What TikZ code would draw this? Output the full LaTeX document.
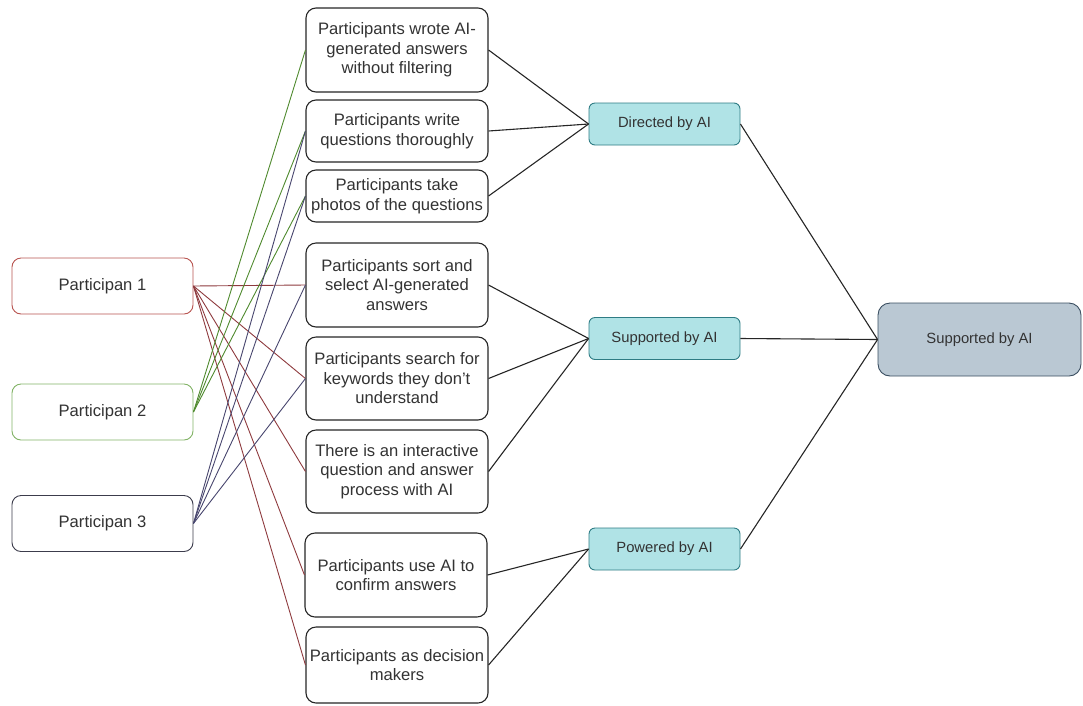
\documentclass[tikz,border=0pt]{standalone}
\usepackage{fontspec}
\setmainfont{Liberation Sans}
\definecolor{redp}{HTML}{B85450}
\definecolor{greenp}{HTML}{82B366}
\definecolor{darkp}{HTML}{3C3C4C}
\definecolor{redline}{HTML}{8E3A3E}
\definecolor{greenline}{HTML}{4F8A2E}
\definecolor{darkline}{HTML}{48466E}
\definecolor{catfill}{HTML}{B0E3E6}
\definecolor{catdraw}{HTML}{2E7C84}
\definecolor{resfill}{HTML}{BAC8D3}
\definecolor{resdraw}{HTML}{3A4E60}
\begin{document}
\begin{tikzpicture}[x=1pt,y=-1pt]
\tikzstyle{every node}=[font=\fontsize{16.6}{19.5}\selectfont,text=black!80,align=center,inner sep=2pt]
\tikzstyle{part}=[draw,fill=white,rounded corners=9pt,minimum width=181pt,minimum height=56pt,line width=0.9pt]
\tikzstyle{act}=[draw=black!85,fill=white,rounded corners=10pt,minimum width=182pt,line width=1.1pt]
\tikzstyle{cat}=[draw=catdraw,fill=catfill,rounded corners=6pt,minimum width=151pt,minimum height=42pt,line width=0.9pt,font=\fontsize{14.8}{17}\selectfont]
\tikzstyle{res}=[draw=resdraw,fill=resfill,rounded corners=12pt,minimum width=203pt,minimum height=73pt,line width=0.9pt,font=\fontsize{14.8}{17}\selectfont]
\useasboundingbox (0,0) rectangle (1083,705);

%%%------------------------------------------------------------------------------------------------------------
\node[part,draw=redp] (p1) at (102.5,286) {Participan 1};
\node[part,draw=greenp] (p2) at (102.5,412) {Participan 2};
\node[part,draw=darkp] (p3) at (102.5,523.5) {Participan 3};

\node[act,minimum height=84pt] (a1) at (397,50) {Participants wrote AI-\\generated answers\\without filtering};
\node[act,minimum height=62pt] (a2) at (397,131) {Participants write\\questions thoroughly};
\node[act,minimum height=52pt] (a3) at (397,196) {Participants take\\photos of the questions};
\node[act,minimum height=84pt] (a4) at (397,285) {Participants sort and\\select AI-generated\\answers};
\node[act,minimum height=83pt] (a5) at (397,378.5) {Participants search for\\keywords they don't\\understand};
\node[act,minimum height=83pt] (a6) at (397,471.5) {There is an interactive\\question and answer\\process with AI};
\node[act,minimum height=84pt] (a7) at (396,575) {Participants use AI to\\confirm answers};
\node[act,minimum height=76pt] (a8) at (397,665) {Participants as decision\\makers};

\node[cat] (dir) at (664.5,124) {Directed by AI};
\node[cat] (sup) at (664.5,338.5) {Supported by AI};
\node[cat] (pow) at (664.5,549) {Powered by AI};
\node[res] (all) at (979.5,339.5) {Supported by AI};

%%%------------------------------------------------------------------------------------------------------------
\foreach \a in {a4,a5,a6,a7,a8}{\draw[color=redline,line width=0.9pt](p1.east)--(\a.west);}
\foreach \a in {a1,a2,a3}{\draw[color=greenline,line width=0.9pt](p2.east)--(\a.west);}
\foreach \a in {a2,a3,a4,a5}{\draw[color=darkline,line width=0.9pt](p3.east)--(\a.west);}

\foreach \a in {a1,a2,a3}{\draw[line width=1.1pt,black!85](\a.east)--(dir.west);}
\foreach \a in {a4,a5,a6}{\draw[line width=1.1pt,black!85](\a.east)--(sup.west);}
\foreach \a in {a7,a8}{\draw[line width=1.1pt,black!85](\a.east)--(pow.west);}
\foreach \c in {dir,sup,pow}{\draw[line width=1.1pt,black!85](\c.east)--(all.west);}
\end{tikzpicture}
\end{document}
